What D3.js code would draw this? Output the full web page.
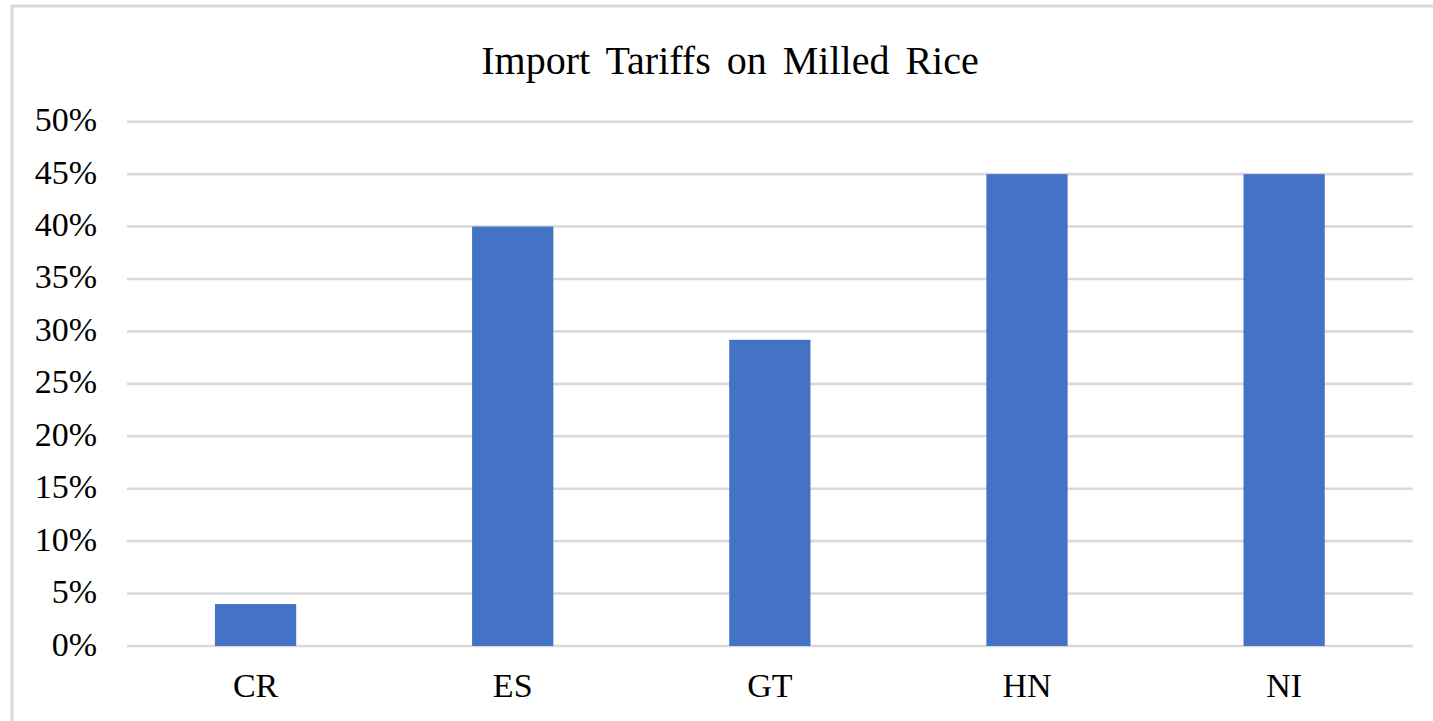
<!DOCTYPE html>
<html>
<head>
<meta charset="utf-8">
<script src="https://cdn.jsdelivr.net/npm/d3@7/dist/d3.min.js"></script>
<style>
  html, body { margin: 0; padding: 0; background: #ffffff; }
  svg { display: block; }
</style>
</head>
<body>
<svg id="chart" width="1433" height="721"></svg>
<script>
// Import tariff rates on milled rice by country
const countries = ["CR", "ES", "GT", "HN", "NI"];
const tariffs = [4, 40, 29.2, 45, 45];
const yTicks = [0, 5, 10, 15, 20, 25, 30, 35, 40, 45, 50];
const chartTitle = "Import Tariffs on Milled Rice";

const FONT = "'Liberation Serif', 'Times New Roman', 'DejaVu Serif', serif";

const svg = d3.select("#chart")
  .attr("font-family", FONT)
  .style("font-family", FONT);
const W = 1433, H = 721;
const plot = { left: 127, right: 1412.7, top: 121.7, bottom: 646 };

// outer frame
svg.append("rect")
  .attr("x", 12).attr("y", 6)
  .attr("width", W + 20).attr("height", H + 20)
  .attr("fill", "#fff")
  .attr("stroke", "#d9d9d9")
  .attr("stroke-width", 3);

const x = d3.scaleBand()
  .domain(countries)
  .range([plot.left, plot.right])
  .paddingInner(0.684)
  .paddingOuter(0.342);

const y = d3.scaleLinear()
  .domain([0, 50])
  .range([plot.bottom, plot.top]);

// horizontal gridlines
svg.append("g")
  .selectAll("line")
  .data(yTicks)
  .join("line")
  .attr("x1", plot.left).attr("x2", plot.right)
  .attr("y1", d => y(d)).attr("y2", d => y(d))
  .attr("stroke", "#d9d9d9")
  .attr("stroke-width", 2.6);

// y-axis labels
svg.append("g")
  .selectAll("text")
  .data(yTicks)
  .join("text")
  .attr("x", 97)
  .attr("y", d => y(d) + 9.5)
  .attr("text-anchor", "end")
  .attr("font-family", FONT)
  .attr("font-size", 34)
  .attr("fill", "#000")
  .text(d => d + "%");

// bars
svg.append("g")
  .selectAll("rect")
  .data(countries.map((c, i) => ({ c, v: tariffs[i] })))
  .join("rect")
  .attr("x", d => x(d.c))
  .attr("width", x.bandwidth())
  .attr("y", d => y(d.v))
  .attr("height", d => y(0) - y(d.v))
  .attr("fill", "#4472c4");

// category labels
svg.append("g")
  .selectAll("text")
  .data(countries)
  .join("text")
  .attr("x", d => x(d) + x.bandwidth() / 2)
  .attr("y", 697)
  .attr("text-anchor", "middle")
  .attr("font-family", FONT)
  .attr("font-size", 34)
  .attr("fill", "#000")
  .text(d => d);

// title
svg.append("text")
  .attr("x", 730)
  .attr("y", 74)
  .attr("text-anchor", "middle")
  .attr("font-family", FONT)
  .attr("font-size", 40)
  .attr("word-spacing", 6)
  .attr("fill", "#000")
  .text(chartTitle);
</script>
</body>
</html>
